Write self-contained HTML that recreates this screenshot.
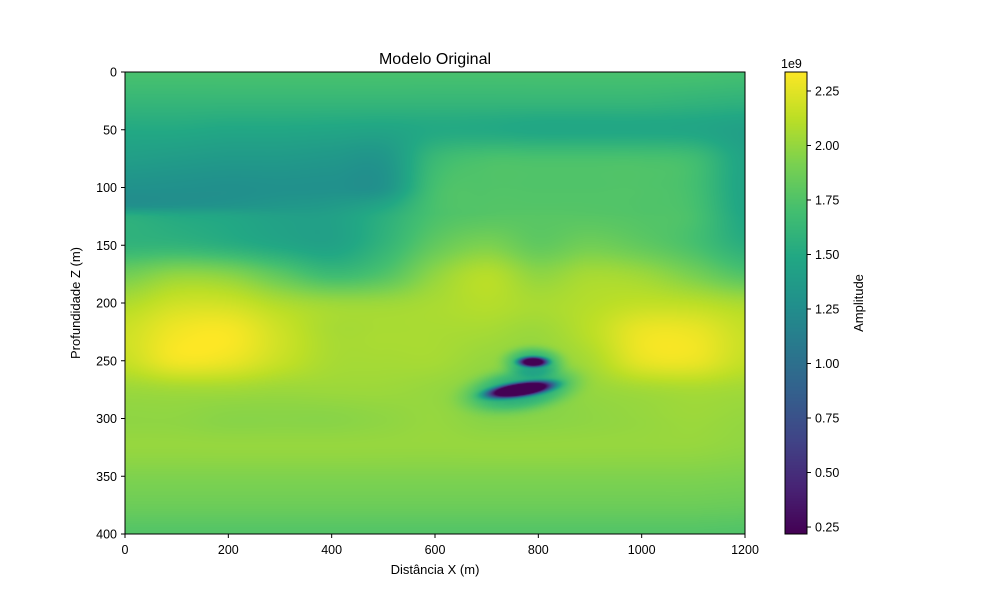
<!DOCTYPE html>
<html><head><meta charset="utf-8"><style>
body{margin:0;background:#fff;width:1000px;height:600px;overflow:hidden;font-family:"Liberation Sans","DejaVu Sans",sans-serif}
#hm{position:absolute;left:125px;top:72px}
#cb{position:absolute;left:785px;top:72px}
svg{position:absolute;left:0;top:0}
</style></head><body>
<canvas id="hm" width="620" height="462"></canvas>
<canvas id="cb" width="22" height="462"></canvas>
<svg id="ax" width="1000" height="600"></svg>
<script>
// Data grid (values in 1e9)
const xCoords=[0,100,200,300,400,500,600,700,800,900,1000,1100,1200];
const zCoords=[0,25,50,75,100,115,125,150,175,200,225,250,275,300,325,350,375,400];
const grid=[
[1.72,1.72,1.72,1.72,1.72,1.72,1.72,1.72,1.72,1.72,1.72,1.72,1.70],
[1.62,1.62,1.62,1.62,1.62,1.62,1.62,1.62,1.62,1.62,1.62,1.60,1.58],
[1.50,1.50,1.48,1.48,1.47,1.46,1.50,1.50,1.48,1.48,1.48,1.47,1.42],
[1.40,1.38,1.36,1.36,1.34,1.33,1.64,1.72,1.72,1.72,1.72,1.68,1.45],
[1.29,1.28,1.27,1.28,1.28,1.30,1.70,1.75,1.75,1.75,1.75,1.70,1.45],
[1.27,1.28,1.30,1.33,1.36,1.46,1.72,1.76,1.76,1.76,1.75,1.71,1.46],
[1.55,1.50,1.47,1.42,1.42,1.55,1.73,1.78,1.78,1.78,1.76,1.72,1.48],
[1.60,1.60,1.55,1.48,1.44,1.60,1.82,1.92,1.82,1.88,1.82,1.72,1.55],
[1.88,1.98,1.95,1.80,1.66,1.75,1.98,2.10,1.98,2.05,2.02,1.90,1.75],
[2.08,2.18,2.18,2.08,2.02,2.02,2.06,2.10,2.06,2.10,2.14,2.12,2.06],
[2.18,2.30,2.32,2.18,2.06,2.06,2.06,2.05,2.02,2.12,2.28,2.28,2.16],
[2.16,2.30,2.28,2.16,2.06,2.05,2.05,2.00,1.98,2.06,2.26,2.28,2.15],
[2.02,2.04,2.04,2.02,2.02,2.02,2.00,1.96,1.94,2.00,2.04,2.06,2.04],
[1.98,1.98,1.96,1.96,1.96,1.98,2.00,1.96,1.96,1.98,2.00,2.02,2.00],
[2.00,2.00,2.00,2.00,2.00,2.00,2.00,2.00,2.00,2.00,2.00,2.00,1.98],
[1.93,1.93,1.93,1.93,1.93,1.93,1.93,1.93,1.93,1.93,1.93,1.93,1.92],
[1.86,1.86,1.86,1.86,1.86,1.86,1.86,1.86,1.86,1.86,1.86,1.86,1.85],
[1.76,1.76,1.76,1.76,1.76,1.76,1.76,1.76,1.76,1.76,1.76,1.76,1.75]];
// anomalies: center x, center z, half-width x, half-width z, amplitude, angle(deg)
const anomX=[790,765,790,765];
const anomZ=[251,275,251,275];
const anomSX=[26,58,50,95];
const anomSZ=[4,5.5,11,16];
const anomAmp=[1.6,1.9,0.35,0.4];
const anomAng=[0,-3.5,0,-3.5];
const xTicks=[0,200,400,600,800,1000,1200];
const zTicks=[0,50,100,150,200,250,300,350,400];
const cTicks=[0.25,0.50,0.75,1.00,1.25,1.50,1.75,2.00,2.25];
const vmin=0.218,vmax=2.337;
const VIR=[[68,1,84],[72,36,117],[65,68,135],[53,95,141],[42,120,142],[33,145,140],[34,168,132],[68,191,112],[122,209,81],[189,223,38],[253,231,37]];
function cmap(v){let t=(v-vmin)/(vmax-vmin);t=Math.max(0,Math.min(1,t))*10;const i=Math.min(9,Math.floor(t)),f=t-i;const a=VIR[i],b=VIR[i+1];return [a[0]+(b[0]-a[0])*f,a[1]+(b[1]-a[1])*f,a[2]+(b[2]-a[2])*f];}
const NZ=zCoords.length-1,NX=xCoords.length-1;
function G(j,i){j=Math.max(0,Math.min(NZ,j));i=Math.max(0,Math.min(NX,i));return grid[j][i];}
function cr(p0,p1,p2,p3,t){return p1+0.5*t*(p2-p0+t*(2*p0-5*p1+4*p2-p3+t*(3*(p1-p2)+p3-p0)));}
function idx(arr,v){let k=0;while(k<arr.length-2&&v>arr[k+1])k++;return [k,(v-arr[k])/(arr[k+1]-arr[k])];}
function field(x,z){
  const [i,fx]=idx(xCoords,x),[j,fz]=idx(zCoords,z);const rows=[];
  for(let dj=-1;dj<=2;dj++)rows.push(cr(G(j+dj,i-1),G(j+dj,i),G(j+dj,i+1),G(j+dj,i+2),fx));
  let v=cr(rows[0],rows[1],rows[2],rows[3],fz);
  for(let k=0;k<anomX.length;k++){const a=anomAng[k]*Math.PI/180;const dx=x-anomX[k],dz=z-anomZ[k];
    const u=(dx*Math.cos(a)+dz*Math.sin(a))/anomSX[k],w=(-dx*Math.sin(a)+dz*Math.cos(a))/anomSZ[k];
    const r=u*u+w*w;v-=anomAmp[k]*Math.exp(-r*r*0.7);}
  return v;}
const hm=document.getElementById('hm'),ctx=hm.getContext('2d');const W=620,H=462;
const img=ctx.createImageData(W,H);
for(let py=0;py<H;py++)for(let px=0;px<W;px++){const c=cmap(field((px+0.5)/W*1200,(py+0.5)/H*400));const o=(py*W+px)*4;img.data[o]=c[0];img.data[o+1]=c[1];img.data[o+2]=c[2];img.data[o+3]=255;}
ctx.putImageData(img,0,0);
const cb=document.getElementById('cb'),cc=cb.getContext('2d');
for(let py=0;py<H;py++){const c=cmap(vmax-(py+0.5)/H*(vmax-vmin));cc.fillStyle=`rgb(${c[0]|0},${c[1]|0},${c[2]|0})`;cc.fillRect(0,py,22,1);}
const NS='http://www.w3.org/2000/svg',svg=document.getElementById('ax');
function el(t,at,txt){const e=document.createElementNS(NS,t);for(const k in at)e.setAttribute(k,at[k]);if(txt!==undefined)e.textContent=txt;svg.appendChild(e);return e;}
const X=v=>125+v/1200*620,Y=v=>72+v/400*462,C=v=>72+(vmax-v)/(vmax-vmin)*462;
let r=el('rect',{x:125,y:72,width:620,height:462,fill:'none',stroke:'#000','stroke-width':1});


xTicks.forEach(v=>{el('line',{x1:X(v),x2:X(v),y1:534,y2:538,stroke:'#000'});
  const t=el('text',{x:X(v),y:554,'font-size':12.5,'text-anchor':'middle'},String(v));
  
  });
zTicks.forEach(v=>{el('line',{x1:121,x2:125,y1:Y(v),y2:Y(v),stroke:'#000'});
  const t=el('text',{x:117,y:Y(v)+4.5,'font-size':12.5,'text-anchor':'end'},String(v));
  
  });
let cr2=el('rect',{x:785,y:72,width:22,height:462,fill:'none',stroke:'#000'});


cTicks.forEach(v=>{el('line',{x1:807,x2:811,y1:C(v),y2:C(v),stroke:'#000'});
  const t=el('text',{x:815,y:C(v)+4.5,'font-size':12.5},v.toFixed(2));
  
  });
let tt=el('text',{x:435,y:64,'font-size':16,'text-anchor':'middle'},'Modelo Original');


let xl=el('text',{x:435,y:574,'font-size':13,'text-anchor':'middle'},'Distância X (m)');


let yl=el('text',{x:0,y:0,'font-size':13,'text-anchor':'middle',transform:'translate(80,303) rotate(-90)'},'Profundidade Z (m)');


let ex=el('text',{x:781,y:68,'font-size':12.5},'1e9');


let cl=el('text',{x:0,y:0,'font-size':13,'text-anchor':'middle',transform:'translate(863,303) rotate(-90)'},'Amplitude');


</script>
</body></html>
